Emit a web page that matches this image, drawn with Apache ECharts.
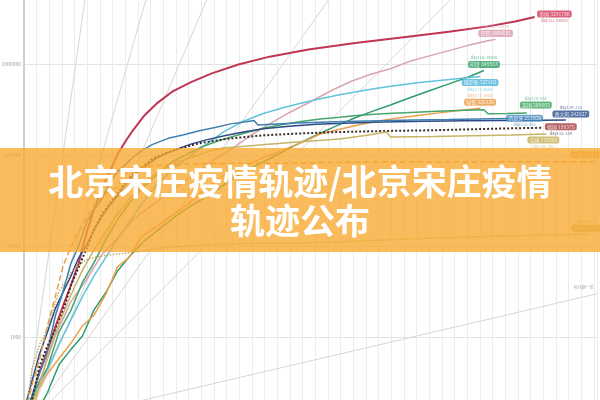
<!DOCTYPE html>
<html><head><meta charset="utf-8">
<script src="https://cdn.jsdelivr.net/npm/echarts@6/dist/echarts.min.js"></script>
<style>html,body{margin:0;padding:0;background:#fff}#c{width:600px;height:400px}</style>
</head><body><div id="c"></div>
<script>
// ---- data (days since 100th case, cumulative cases) ----
const yTicks = [1000, 10000, 100000, 1000000];
const usa = [[0,118],[2,217],[4,417],[6,704],[8,1281],[10,2179],[12,3680],[14,6421],[16,13747],[18,25489],[20,43847],[22,65778],[24,101657],[26,140886],[28,188172],[31,275586],[34,366614],[38,496535],[43,636350],[48,784326],[55,988197],[63,1204351],[73,1442824],[85,1699933],[99,2000464],[109,2255119],[119,2590582],[126,2936077],[131,3291786]];
const brazil = [[0,151],[2,200],[5,428],[8,1021],[12,2433],[16,4256],[20,8044],[24,12161],[28,19638],[33,28320],[38,40743],[43,58509],[48,85380],[53,114715],[58,162699],[63,220291],[68,291579],[73,374898],[79,514849],[84,645771],[89,772416],[94,888271],[99,1070139],[104,1228114],[109,1402041],[114,1603055],[119,1800827],[121,1864681]];
const india = [[0,102],[3,142],[6,244],[9,499],[12,727],[15,1024],[18,1998],[21,3082],[24,5311],[27,7600],[31,11487],[35,15712],[39,21370],[43,27890],[48,37336],[53,52952],[58,70756],[63,90927],[68,118447],[73,150793],[79,198706],[84,246622],[89,297535],[94,354065],[99,425282],[104,508953],[109,604641],[114,719665],[118,849553]];
const russia = [[0,114],[3,253],[6,438],[9,840],[12,1534],[15,2777],[18,4731],[21,7497],[24,11917],[27,18328],[30,27938],[34,47121],[38,68622],[42,93558],[46,124054],[51,177160],[56,232243],[61,281752],[66,326448],[71,370680],[76,414878],[81,458689],[86,502436],[91,545458],[96,584680],[101,620794],[106,654405],[111,687862],[117,727162]];
const peru = [[0,117],[3,234],[6,395],[9,580],[12,852],[15,1323],[18,1746],[21,2954],[24,5897],[27,7519],[30,12491],[34,16325],[38,21648],[42,28699],[46,40459],[51,58526],[56,72059],[61,92273],[66,111698],[71,135905],[76,170039],[81,191758],[86,214788],[91,237156],[96,254936],[101,272364],[106,288477],[111,305703],[117,326326]];
const uk = [[0,116],[3,273],[6,456],[9,1140],[12,1950],[15,3983],[18,6650],[21,11658],[24,19522],[27,29474],[30,41903],[34,60733],[38,84279],[42,103093],[46,124743],[51,148377],[56,171253],[61,194990],[66,215260],[71,233151],[76,248293],[81,259559],[86,272826],[92,283311],[99,292950],[106,301815],[113,309360],[118,313483],[119,283757],[124,286349],[129,289603]];
const italy = [[0,155],[2,322],[4,655],[6,1128],[8,2036],[10,3089],[12,4636],[14,7375],[16,10149],[18,15113],[20,21157],[22,27980],[24,35713],[26,47021],[28,59138],[30,69176],[32,80589],[34,92472],[36,101739],[39,115242],[43,132547],[47,147577],[52,165155],[57,181228],[62,195351],[68,207428],[75,217185],[82,223885],[92,230158],[103,234531],[113,237290],[123,239706],[133,241611],[139,242827]];
const spain = [[0,120],[2,222],[4,400],[6,673],[8,1695],[10,3146],[12,6391],[14,9942],[16,17963],[18,25374],[20,33089],[22,49515],[24,65719],[26,78797],[28,94417],[30,110238],[33,130759],[37,152446],[41,166831],[45,184948],[49,200210],[53,219764],[57,232128],[59,239639],[60,213435],[70,224350],[80,232555],[85,235400],[100,243209],[109,245575],[120,250545],[132,253908]];
const germany = [[0,117],[2,196],[4,482],[6,795],[8,1176],[10,1908],[12,3675],[14,5795],[16,9257],[18,15320],[20,22213],[22,29056],[24,37323],[26,50871],[28,62095],[30,71808],[33,91159],[36,103374],[40,118235],[45,134753],[52,150648],[61,164077],[70,171879],[80,178473],[92,183410],[106,187423],[122,195042],[133,199375]];
const france = [[0,100],[3,204],[6,613],[9,1412],[12,2876],[15,5423],[18,9134],[21,14459],[24,22304],[27,32964],[30,44550],[33,59105],[36,70478],[39,83080],[43,93790],[47,108847],[51,119151],[56,124114],[62,130185],[71,139519],[81,150000],[88,165000],[93,179000],[94,158000],[105,160000],[115,163000],[125,166000],[134,170000]];
const china = [[0,121],[2,291],[4,571],[6,1320],[8,2744],[10,5974],[12,9692],[14,14380],[16,20438],[18,28018],[20,34598],[22,40171],[24,44653],[26,63851],[28,68500],[30,72436],[32,74576],[35,76936],[39,78166],[43,79968],[52,80778],[62,81250],[74,82361],[90,83760],[104,83959],[123,84063],[135,84128],[147,84254]];
const korea = [[0,104],[1,204],[2,433],[3,602],[4,833],[5,977],[6,1261],[7,1766],[8,2337],[9,3150],[10,3736],[11,4212],[12,5186],[13,5621],[14,6088],[15,6593],[16,7041],[17,7314],[18,7478],[20,7755],[22,7979],[25,8236],[28,8565],[32,9037],[36,9583],[41,9976],[50,10450],[60,10674],[70,10822],[80,11078],[90,11541],[100,12003],[110,12373],[120,12757],[130,13091],[145,13479]];
const names = ['美国','巴西','印度','俄罗斯','秘鲁','英国','意大利','西班牙','德国','法国','中国','韩国'];
const dayNotes = ['day131: 59000','day121: 24800','day118: 28600','day117: 6600','day117: 3800','day129: 650','day139: 234','day132: 852','day133: 159','day134: 580','day147: 3','day145: 39'];
// reference doubling lines (from 100 cases at day 0)
const refNames = ['每天翻一倍','每2天翻一倍','每3天翻一倍','每5天翻一倍','每周翻一倍','每月翻一倍'];
const refLines = [
  [[0,100],[17,13107200]],
  [[0,100],[34,13107200]],
  [[0,100],[51,13107200]],
  [[0,100],[85,13107200]],
  [[0,100],[119,13107200]],
  [[0,100],[147,2986]]
];
const title = '北京宋庄疫情轨迹/北京宋庄疫情\n轨迹公布';

// ---- styles ----
const countryData = [usa, brazil, india, russia, peru, uk, italy, spain, germany, france, china, korea];
const styles = [
  {c:'#bf3552', lc:'#d2375a', w:2, pos:'right', off:[0,0], up:false},
  {c:'#d9a5b3', lc:'#dc9cae', w:1.5, pos:'top', off:[0,0], up:true},
  {c:'#2f9c70', lc:'#2fa062', w:1.5, pos:'top', off:[0,0], up:true},
  {c:'#62c3db', lc:'#4eb5dd', w:1.5, pos:'bottom', off:[0,0], up:false},
  {c:'#eaa24a', lc:'#ec9a40', w:1.5, pos:'top', off:[0,0], up:true},
  {c:'#47a66c', lc:'#3ba85e', w:1.5, pos:'top', off:[9,-2], up:true},
  {c:'#2b4a86', lc:'#2a4f8e', w:1.5, pos:'top', off:[5,0], up:true},
  {c:'#3f7fb0', lc:'#4a8cc0', w:1.5, pos:'inside', off:[-14,3], up:false},
  {c:'#3a2c2c', lc:'#a63a40', w:2, type:'dotted', pos:'right', off:[0,2], up:false},
  {c:'#c8b466', lc:'#c4ae55', w:1.5, pos:'bottom', off:[-3,0], up:false},
  {c:'#e2a04e', lc:'#e6a456', w:1.5, type:'dashed', pos:'inside', off:[-12,-7], up:null},
  {c:'#bfae62', lc:'#c2ae5a', w:1.5, type:'dotted', pos:'top', off:[-3,0], up:true}
];
const FONT = '"Noto Sans CJK SC", "Noto Sans", sans-serif';

const series = [];
refLines.forEach((d, i) => {
  series.push({type:'line', name:refNames[i], data:d, symbol:'none', silent:true, z:1,
    lineStyle:{color:'#d6d6d6', width:1}});
});
countryData.forEach((d, i) => {
  const s = styles[i];
  series.push({type:'line', name:names[i], data:d, symbol:'none', showSymbol:false, silent:true, z:2,
    lineStyle:{color:s.c, width:s.w, type:s.type || 'solid'}});
});
const labelItems = countryData.map((d, i) => {
  const s = styles[i];
  const last = d[d.length - 1];
  const box = '{b|' + names[i] + ' ' + last[1] + '}';
  const note = '{d|' + dayNotes[i] + '}';
  const text = s.up === null ? box : (s.up ? note + '\n' + box : box + '\n' + note);
  return {value:last, label:{show:true, position:s.pos, distance:2, offset:s.off, formatter:text,
    rich:{
      b:{backgroundColor:s.lc, color:'#fff', fontSize:5, fontFamily:FONT, padding:[1,2,1,2], borderRadius:2, lineHeight:7, align:'center'},
      d:{color:s.c, opacity:0.7, fontSize:4, fontFamily:FONT, lineHeight:6, align:'center'}
    }}};
});
const monthLast = refLines[5][1];
labelItems.push({value:monthLast, label:{show:true, position:'left', offset:[2,-6], formatter:refNames[5], color:'#999', fontSize:4, fontFamily:FONT}});
series.push({type:'scatter', data:labelItems, symbolSize:1, itemStyle:{color:'rgba(0,0,0,0)'}, silent:true, z:3});

const chart = echarts.init(document.getElementById('c'), null, {renderer:'canvas'});
chart.setOption({
  animation:false,
  backgroundColor:'#fff',
  grid:{left:24, top:-27, width:573, height:455, containLabel:false, outerBoundsMode:'none'},
  xAxis:{type:'value', min:0, max:147, interval:3.25,
    axisLine:{show:false}, axisTick:{show:false}, axisLabel:{show:false},
    splitLine:{show:true, lineStyle:{color:'#ececec', width:1}}},
  yAxis:{type:'log', logBase:10, min:100, max:10000000,
    axisLine:{show:true, lineStyle:{color:'#cfcfcf', width:2}},
    axisTick:{show:false},
    axisLabel:{show:true, fontSize:5, color:'#999', margin:3, fontFamily:FONT,
      formatter:(v) => yTicks.indexOf(Math.round(v)) >= 0 ? String(Math.round(v)) : ''},
    splitLine:{show:true, lineStyle:{color:'#e2e2e2', width:1}}},
  series:series,
  graphic:[
    {type:'rect', shape:{x:0, y:148, width:600, height:104}, style:{fill:'rgba(247,168,46,0.78)'}, z:100},
    {type:'text', x:300, y:201, z:101, style:{text:title, fill:'#fff', font:'bold 35px ' + FONT,
      align:'center', verticalAlign:'middle', textAlign:'center', textVerticalAlign:'middle', lineHeight:39}}
  ]
});
</script></body></html>
